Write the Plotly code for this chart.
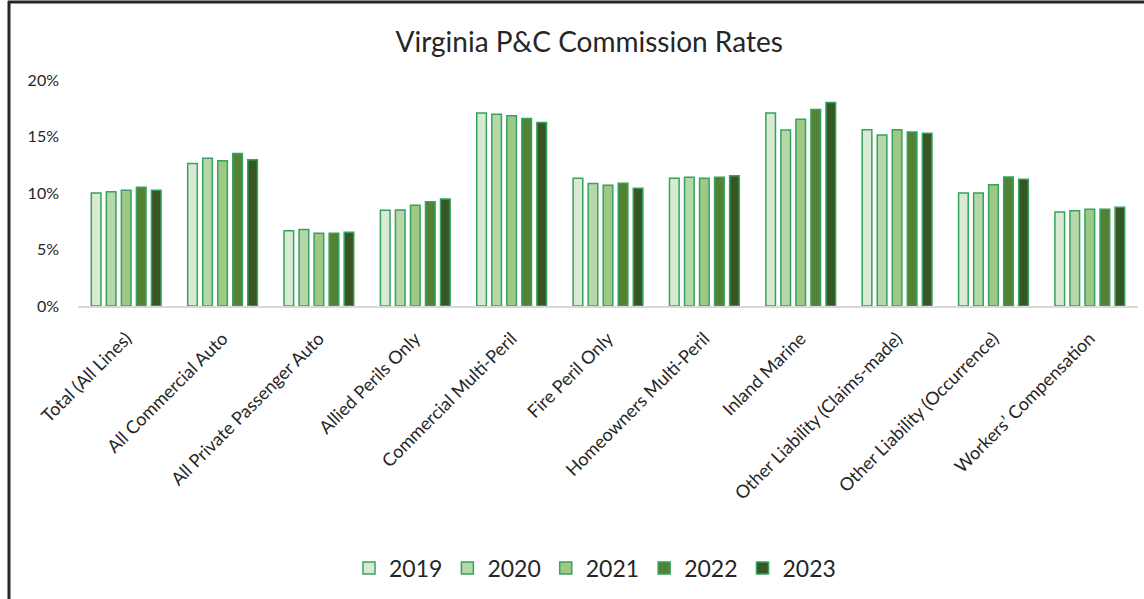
import plotly.graph_objects as go

categories = [
    "Total (All Lines)", "All Commercial Auto", "All Private Passenger Auto",
    "Allied Perils Only", "Commercial Multi-Peril", "Fire Peril Only",
    "Homeowners Multi-Peril", "Inland Marine", "Other Liability (Claims-made)",
    "Other Liability (Occurrence)", "Workers\u2019 Compensation",
]
years = ["2019", "2020", "2021", "2022", "2023"]
v2019 = [10.0, 12.6, 6.65, 8.47, 17.08, 11.3, 11.3, 17.08, 15.6, 10.0, 8.32]
v2020 = [10.1, 13.07, 6.76, 8.5, 16.96, 10.83, 11.39, 15.58, 15.13, 10.0, 8.44]
v2021 = [10.25, 12.86, 6.43, 8.91, 16.84, 10.68, 11.3, 16.52, 15.6, 10.74, 8.56]
v2022 = [10.5, 13.5, 6.43, 9.23, 16.6, 10.86, 11.39, 17.4, 15.4, 11.42, 8.56]
v2023 = [10.25, 12.95, 6.52, 9.47, 16.25, 10.41, 11.53, 18.0, 15.28, 11.21, 8.73]
series = [v2019, v2020, v2021, v2022, v2023]
colors = ["#d9ead3", "#b6d7a8", "#9dc985", "#548235", "#375623"]
tick_vals = [0, 5, 10, 15, 20]
tick_text = ["0%", "5%", "10%", "15%", "20%"]

FONT = "Lato"
fig = go.Figure()
for y, vals, c in zip(years, series, colors):
    fig.add_trace(go.Bar(
        name=y, x=categories, y=vals,
        marker=dict(color=c, line=dict(color="#35a35f", width=1.5)),
    ))

# frame geometry (paper coords from pixel positions)
L, R, T, B = 78, 6, 80, 293
W, H = 1144 - L - R, 599 - T - B

def px(x):
    return (x - L) / W

def py(y):
    return (599 - B - y) / H

fig.update_layout(
    width=1144, height=599,
    margin=dict(l=L, r=R, t=T, b=B, autoexpand=False),
    paper_bgcolor="white", plot_bgcolor="white",
    barmode="group", bargap=0.22, bargroupgap=0.36,
    font=dict(family=FONT, color="#404040"),
    title=dict(text="Virginia P&C Commission Rates", x=0.515, xanchor="center",
               y=1 - 42 / 599, yanchor="middle", xref="container", yref="container",
               font=dict(family=FONT, size=28, color="#262626")),
    showlegend=True,
    legend=dict(orientation="h", x=px(595), xanchor="center", y=py(568), yanchor="middle",
                font=dict(family=FONT, size=23, color="#262626"),
                traceorder="normal", itemwidth=30),
    xaxis=dict(tickangle=-45, showgrid=False, showline=True, linecolor="#d9d9d9",
               linewidth=2, ticks="", ticklabelstandoff=13,
               tickfont=dict(family=FONT, size=18, color="#262626")),
    yaxis=dict(range=[0, 20], tickvals=tick_vals, ticktext=tick_text, showgrid=False,
               zeroline=False, showline=False, ticks="", ticklabelstandoff=18,
               tickfont=dict(family=FONT, size=16, color="#262626")),
    shapes=[
        dict(type="line", xref="paper", yref="paper", x0=px(9), x1=px(9), y0=py(1), y1=py(599),
             line=dict(color="#262626", width=3)),
        dict(type="line", xref="paper", yref="paper", x0=px(8), x1=px(1144), y0=py(2), y1=py(2),
             line=dict(color="#262626", width=3)),
    ],
)
fig.write_html("out.html", config={"displayModeBar": False},
               post_script="document.body.style.margin='0';")
